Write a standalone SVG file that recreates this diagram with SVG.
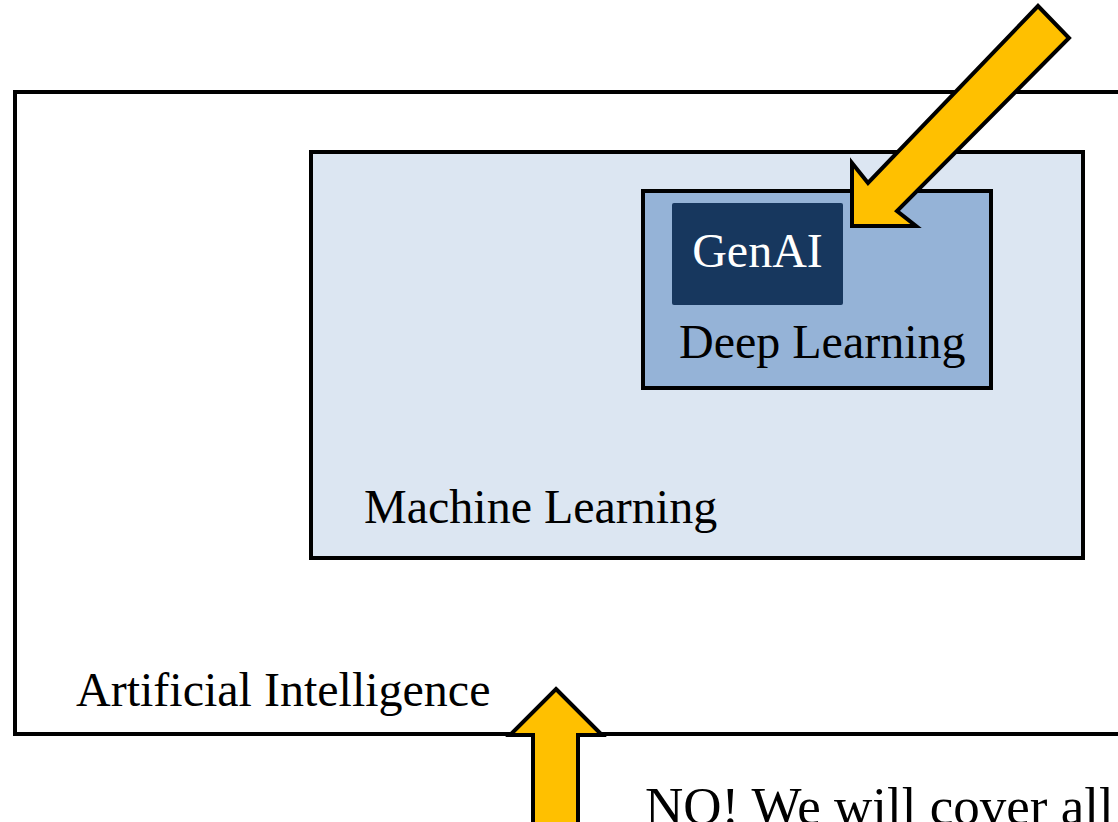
<svg xmlns="http://www.w3.org/2000/svg" width="1118" height="822" viewBox="0 0 1118 822">
  <style>
    .box { stroke: #000; stroke-width: 4; stroke-linejoin: miter; }
    .lbl { font-family: "Liberation Serif", "Times New Roman", serif; font-size: 48px; fill: #000; }
    .arrow { fill: #ffc000; stroke: #000; stroke-width: 4; stroke-linejoin: miter; }
  </style>
  <rect width="1118" height="822" fill="#fff"/>

  <!-- outermost field -->
  <g id="artificial-intelligence">
    <rect class="box" x="15" y="92" width="1120" height="642" fill="#fff"/>
    <text class="lbl" x="76" y="706">Artificial Intelligence</text>
  </g>

  <g id="machine-learning">
    <rect class="box" x="311" y="152" width="772" height="406" fill="#dce6f2"/>
    <text class="lbl" x="364" y="523">Machine Learning</text>
  </g>

  <g id="deep-learning">
    <rect class="box" x="643" y="191" width="348" height="197" fill="#95b3d7"/>
    <text class="lbl" x="679" y="358">Deep Learning</text>
  </g>

  <g id="genai">
    <rect x="672" y="203" width="171" height="102" rx="2" fill="#17375e"/>
    <text class="lbl" x="757.5" y="267" text-anchor="middle" style="fill:#fff">GenAI</text>
  </g>

  <!-- pointer arrows -->
  <g id="connectors">
    <polygon class="arrow" points="1038,6 1069,38 897,211 916,226 852,226 852,163 868,183"/>
    <polygon class="arrow" points="556,689 602,735 578,735 578,830 533,830 533,735 510,735"/>
  </g>

  <!-- caption running past the lower edge -->
  <g id="note">
    <text class="lbl" x="645" y="824" style="font-size:53px">NO! We will cover all</text>
  </g>
</svg>
